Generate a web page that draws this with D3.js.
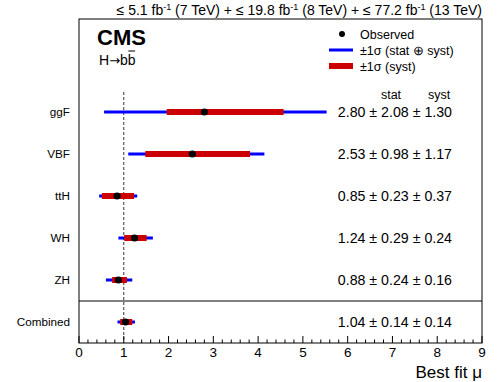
<!DOCTYPE html>
<html>
<head>
<meta charset="utf-8">
<script src="https://cdn.jsdelivr.net/npm/d3@7"></script>
<style>
  body { margin: 0; background: #fff; }
  text { font-family: "Liberation Sans", Arial, sans-serif; }
</style>
</head>
<body>
<svg id="chart" width="498" height="382"></svg>
<script>
// Data
const channels = ['ggF', 'VBF', 'ttH', 'WH', 'ZH', 'Combined'];
const observed = [2.80, 2.53, 0.85, 1.24, 0.88, 1.04];
const totalLo = [0.56, 1.10, 0.45, 0.88, 0.60, 0.86];
const totalHi = [5.53, 4.14, 1.30, 1.65, 1.19, 1.25];
const systLo = [1.96, 1.48, 0.51, 1.01, 0.74, 0.92];
const systHi = [4.57, 3.82, 1.23, 1.51, 1.07, 1.19];
const statErr = ['2.08', '0.98', '0.23', '0.29', '0.24', '0.14'];
const systErr = ['1.30', '1.17', '0.37', '0.24', '0.16', '0.14'];
const xTicks = [0, 1, 2, 3, 4, 5, 6, 7, 8, 9];

const svg = d3.select('#chart');
const frameL = 79, frameR = 482, frameT = 19, frameB = 343;

const x = d3.scaleLinear().domain([0, 9]).range([frameL, frameR]);
const y = d3.scalePoint().domain(channels).range([112, 322]);

// Frame
svg.append('rect')
  .attr('x', frameL).attr('y', frameT)
  .attr('width', frameR - frameL).attr('height', frameB - frameT)
  .attr('fill', 'none').attr('stroke', '#000').attr('stroke-width', 1);

// Separator above Combined
svg.append('line')
  .attr('x1', frameL).attr('x2', frameR)
  .attr('y1', 301).attr('y2', 301)
  .attr('stroke', '#000');

// SM line (starts below the labels)
svg.append('line')
  .attr('x1', x(1)).attr('x2', x(1))
  .attr('y1', 92).attr('y2', frameB)
  .attr('stroke', '#000').attr('stroke-dasharray', '3,2').attr('stroke-width', 0.8);

// Axis: major and minor ticks pointing up
const minor = d3.range(0, 9.0001, 0.2);
svg.append('g').selectAll('line').data(minor).join('line')
  .attr('x1', (d) => x(d)).attr('x2', (d) => x(d))
  .attr('y1', frameB)
  .attr('y2', (d) => Math.abs(d - Math.round(d)) < 1e-6 ? frameB - 7 : frameB - 3.5)
  .attr('stroke', '#000');

svg.append('g').selectAll('text').data(xTicks).join('text')
  .attr('x', (d) => x(d)).attr('y', 357)
  .attr('text-anchor', 'middle').attr('font-size', 13.5)
  .text((d) => d);

svg.append('text')
  .attr('x', frameR).attr('y', 378)
  .attr('text-anchor', 'end').attr('font-size', 17)
  .text('Best fit μ');

// Error bars
channels.forEach((c, i) => {
  const g = svg.append('g');
  g.append('line')
    .attr('x1', x(totalLo[i])).attr('x2', x(totalHi[i]))
    .attr('y1', y(c)).attr('y2', y(c))
    .attr('stroke', '#0000ff').attr('stroke-width', 3);
  g.append('line')
    .attr('x1', x(systLo[i])).attr('x2', x(systHi[i]))
    .attr('y1', y(c)).attr('y2', y(c))
    .attr('stroke', '#cc0000').attr('stroke-width', 6);
  g.append('circle')
    .attr('cx', x(observed[i])).attr('cy', y(c))
    .attr('r', 3.6).attr('fill', '#000');

  // row label
  svg.append('text')
    .attr('x', 70).attr('y', y(c) + 4)
    .attr('text-anchor', 'end').attr('font-size', 11.7)
    .text(c);

  // values
  svg.append('text')
    .attr('x', 452).attr('y', y(c) + 5)
    .attr('text-anchor', 'end').attr('font-size', 14.2)
    .text(`${observed[i].toFixed(2)} ± ${statErr[i]} ± ${systErr[i]}`);
});

// stat / syst headings
svg.append('text').attr('x', 391).attr('y', 99)
  .attr('text-anchor', 'middle').attr('font-size', 12.5).text('stat');
svg.append('text').attr('x', 439).attr('y', 99)
  .attr('text-anchor', 'middle').attr('font-size', 12.5).text('syst');

// Luminosity header
const head = svg.append('text')
  .attr('x', frameR).attr('y', 15)
  .attr('text-anchor', 'end').attr('font-size', 14);
[['≤ 5.1 fb', false], ['-1', true], [' (7 TeV) + ≤ 19.8 fb', false], ['-1', true],
 [' (8 TeV) + ≤ 77.2 fb', false], ['-1', true], [' (13 TeV)', false]].forEach(([t, sup]) => {
  head.append('tspan')
    .attr('dy', sup ? -5 : 5)
    .attr('font-size', sup ? 9 : null)
    .text(t);
});
head.select('tspan').attr('dy', null);

// CMS label
svg.append('text').attr('x', 97).attr('y', 45)
  .attr('font-size', 22).attr('font-weight', 'bold').text('CMS');
const hbb = svg.append('text').attr('x', 99).attr('y', 65).attr('font-size', 14);
hbb.append('tspan').text('H');
hbb.append('tspan').attr('font-family', 'DejaVu Sans').attr('font-size', 13).text('→');
hbb.append('tspan').text('b');
const bbar = hbb.append('tspan').text('b');
const bb = bbar.node().getExtentOfChar(0);
svg.append('line')
  .attr('x1', bb.x + 0.5).attr('x2', bb.x + bb.width - 0.5)
  .attr('y1', 51).attr('y2', 51)
  .attr('stroke', '#000').attr('stroke-width', 1);

// Legend
svg.append('circle').attr('cx', 342).attr('cy', 34).attr('r', 3).attr('fill', '#000');
svg.append('text').attr('x', 360).attr('y', 38.5).attr('font-size', 12.5).text('Observed');
svg.append('line').attr('x1', 329).attr('x2', 353).attr('y1', 50).attr('y2', 50)
  .attr('stroke', '#0000ff').attr('stroke-width', 3);
svg.append('text').attr('x', 360).attr('y', 55).attr('font-size', 12.5).text('±1σ (stat ⊕ syst)');
svg.append('line').attr('x1', 329).attr('x2', 353).attr('y1', 66).attr('y2', 66)
  .attr('stroke', '#cc0000').attr('stroke-width', 6);
svg.append('text').attr('x', 360).attr('y', 70.5).attr('font-size', 12.5).text('±1σ (syst)');
</script>
</body>
</html>
